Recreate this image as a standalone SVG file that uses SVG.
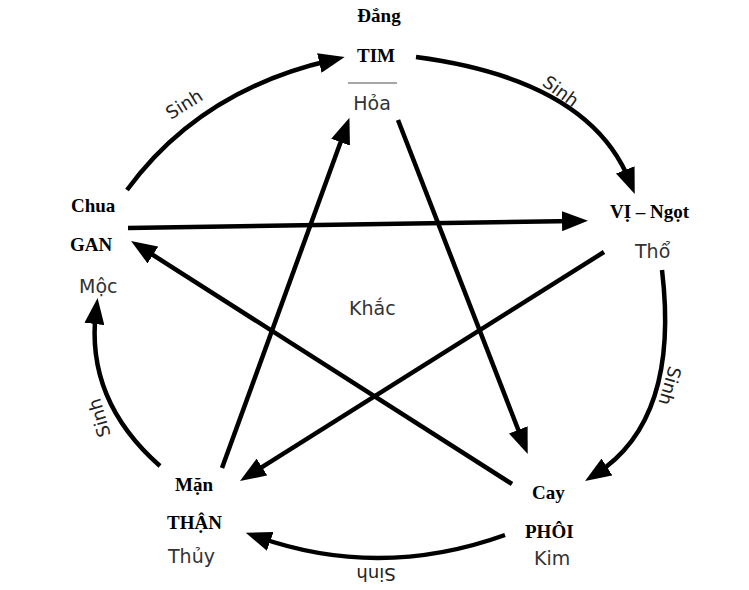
<svg xmlns="http://www.w3.org/2000/svg" width="749" height="590" viewBox="0 0 749 590">
<style>
.bl{font-family:"Liberation Serif","Times New Roman",serif;font-weight:bold;font-size:19px;fill:#000}
.gr{font-family:"DejaVu Sans",sans-serif;font-size:19px;fill:#333}
.sn{font-family:"DejaVu Sans",sans-serif;font-size:18px;fill:#222;text-anchor:middle;dominant-baseline:central}
.ln{fill:none;stroke:#000;stroke-width:4.5;marker-end:url(#ah)}
</style>
<defs>
<marker id="ah" markerUnits="userSpaceOnUse" viewBox="0 0 26 20" markerWidth="26" markerHeight="20" refX="13" refY="10" orient="auto">
<path d="M0,0 L26,10 L0,20 z" fill="#000"/>
</marker>
</defs>
<rect width="749" height="590" fill="#fff"/>
<g id="connectors">
<path class="ln" d="M127,190 Q200,90 332,60"/>
<path class="ln" d="M416,57 Q590,80 630,182"/>
<path class="ln" d="M662,270 Q680,420 596,474"/>
<path class="ln" d="M505,535 Q380,580 258,537"/>
<path class="ln" d="M160,466 Q85,400 96,311"/>
<path class="ln" d="M128,228 L575,221"/>
<path class="ln" d="M604,252 L251,474"/>
<path class="ln" d="M398,120 L523,442"/>
<path class="ln" d="M512,484 L142,248"/>
<path class="ln" d="M222,468 L345,130"/>
<line x1="348" y1="83" x2="397" y2="83" stroke="#888" stroke-width="1.5"/>
<text class="sn" transform="translate(184,104) rotate(-32)">Sinh</text>
<text class="sn" transform="translate(561,91) rotate(36)">Sinh</text>
<text class="sn" transform="translate(670,386) rotate(106)">Sinh</text>
<text class="sn" transform="translate(376,574) rotate(180)">Sinh</text>
<text class="sn" transform="translate(99,418) rotate(-106)">Sinh</text>
</g>
<g id="hoa">
<text class="bl" x="379" y="22" text-anchor="middle">Đắng</text>
<text class="bl" x="376" y="62" text-anchor="middle">TIM</text>
<text class="gr" x="372" y="110" text-anchor="middle">Hỏa</text>
</g>
<g id="tho">
<text class="bl" x="610" y="218">VỊ – Ngọt</text>
<text class="gr" x="635" y="258">Thổ</text>
</g>
<g id="moc">
<text class="bl" x="71" y="212">Chua</text>
<text class="bl" x="70" y="251">GAN</text>
<text class="gr" x="79" y="293">Mộc</text>
</g>
<g id="thuy">
<text class="bl" x="175" y="491">Mặn</text>
<text class="bl" x="167" y="529">THẬN</text>
<text class="gr" x="168" y="563">Thủy</text>
</g>
<g id="kim">
<text class="bl" x="532" y="499">Cay</text>
<text class="bl" x="525" y="538">PHÔI</text>
<text class="gr" x="534" y="565">Kim</text>
</g>
<g id="khac">
<text class="gr" x="349" y="315">Khắc</text>
</g>
</svg>
